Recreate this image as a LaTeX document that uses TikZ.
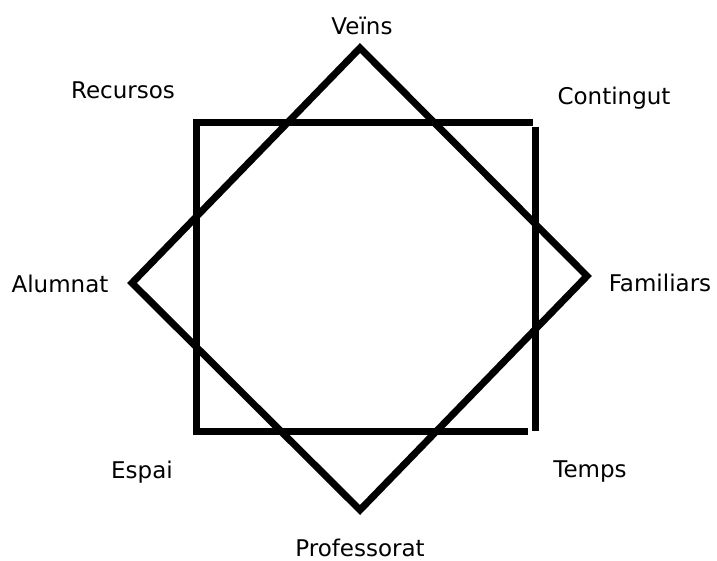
\documentclass[tikz,border=0pt]{standalone}
\usepackage{fontspec}
\setmainfont{DejaVu Sans}
\usetikzlibrary{positioning}

\begin{document}
\begin{tikzpicture}[x=1pt, y=-1pt, line width=7pt,
  every node/.style={font=\fontsize{23}{27}\selectfont, inner sep=0pt}]
  \useasboundingbox (0,0) rectangle (717,561);
  % Square
  \draw[line join=miter] (533,123) -- (196,123) -- (196,431) -- (528,431);
  \draw (535.5,127) -- (535.5,431);
  % Diamond
  \coordinate (top) at (360,48);
  \coordinate (right) at (587,276);
  \coordinate (bottom) at (360,510);
  \coordinate (left) at (132,283);
  \draw[line join=miter] (top) -- (right) -- (bottom) -- (left) -- cycle;
  % Labels
  \node (veins) at (362,26) {Veïns};
  \node (recursos) at (123,90) {Recursos};
  \node (contingut) at (614,98) {Contingut};
  \node (alumnat) at (60,284) {Alumnat};
  \node (familiars) at (660,283) {Familiars};
  \node (espai) at (142,472) {Espai};
  \node (temps) at (590,472) {Temps};
  \node (professorat) at (360,548) {Professorat};
\end{tikzpicture}
\end{document}
